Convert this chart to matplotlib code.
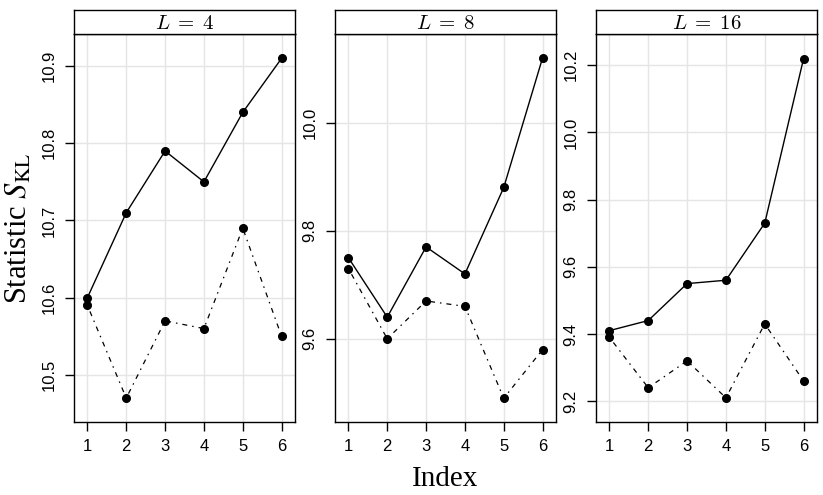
import numpy as np
import matplotlib
matplotlib.use("Agg")
import matplotlib.pyplot as plt

# data
index = [1, 2, 3, 4, 5, 6]
panels = ["4", "8", "16"]
solid_L4 = [10.60, 10.71, 10.79, 10.75, 10.84, 10.91]
dash_L4 = [10.59, 10.47, 10.57, 10.56, 10.69, 10.55]
solid_L8 = [9.75, 9.64, 9.77, 9.72, 9.88, 10.12]
dash_L8 = [9.73, 9.60, 9.67, 9.66, 9.49, 9.58]
solid_L16 = [9.41, 9.44, 9.55, 9.56, 9.73, 10.22]
dash_L16 = [9.39, 9.24, 9.32, 9.21, 9.43, 9.26]

yticks_L4 = [10.5, 10.6, 10.7, 10.8, 10.9]
yticks_L8 = [9.6, 9.8, 10.0]
yticks_L16 = [9.2, 9.4, 9.6, 9.8, 10.0, 10.2]

solids = [solid_L4, solid_L8, solid_L16]
dashes = [dash_L4, dash_L8, dash_L16]
yticks = [yticks_L4, yticks_L8, yticks_L16]
ylims = [(10.439, 10.9415), (9.446, 10.164), (9.138, 10.293)]

W, H = 823, 495
fig = plt.figure(figsize=(W / 100, H / 100), dpi=100)

lefts = [74, 335, 596]
pw = 221
bot, top, strip_top = 422, 34, 10

for i in range(3):
    ax = fig.add_axes([lefts[i] / W, 1 - bot / H, pw / W, (bot - top) / H])
    ax.grid(True, color="#e5e5e5", lw=1.0, zorder=0)
    ax.plot(index, solids[i], color="black", lw=1.0, marker="o", ms=5.5, zorder=3)
    ax.plot(index, dashes[i], color="black", lw=0.9, marker="o", ms=5.5,
            dashes=(1.2, 4, 4, 4), zorder=3)
    ax.set_xlim(0.655, 6.345)
    ax.set_ylim(*ylims[i])
    ax.set_xticks(index)
    ax.set_yticks(yticks[i])
    ax.set_yticklabels(["%.1f" % v for v in yticks[i]], rotation=90, va="center")
    ax.tick_params(length=6.5, width=1.0, pad=6.0, labelsize=12, colors="black")
    for lab in ax.get_xticklabels() + ax.get_yticklabels():
        lab.set_family("Liberation Sans")
    for s in ax.spines.values():
        s.set_linewidth(1.0)
    ax.set_axisbelow(True)

    # strip on top
    sax = fig.add_axes([lefts[i] / W, 1 - top / H, pw / W, (top - strip_top) / H])
    sax.set_xticks([])
    sax.set_yticks([])
    for s in sax.spines.values():
        s.set_linewidth(1.0)
    sax.text(0.5, 0.45, r"$L\;=\;%s$" % panels[i], ha="center", va="center",
             fontsize=15, math_fontfamily="cm", transform=sax.transAxes)

fig.text(19 / W, 1 - 228 / H, r"Statistic $S_{\mathrm{KL}}$", rotation=90, ha="center",
         va="center", fontsize=22, family="Liberation Serif", math_fontfamily="stix")
fig.text(445 / W, 1 - 479 / H, "Index", ha="center", va="center", fontsize=21,
         family="Liberation Serif")

fig.savefig("out.png", dpi=100)
